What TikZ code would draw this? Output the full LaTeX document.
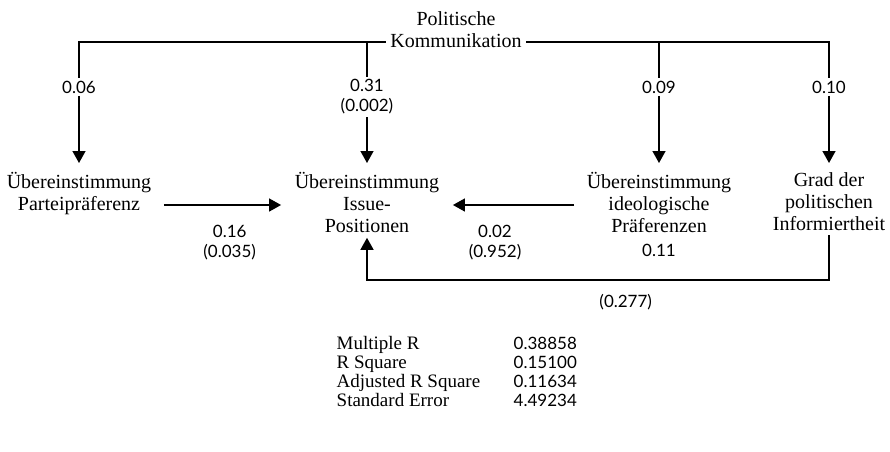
\documentclass[tikz,border=0pt]{standalone}
\usepackage{fontspec}
\setmainfont{Liberation Serif}
\newfontfamily\numfont{Lato}
\usetikzlibrary{arrows.meta,positioning}
\begin{document}
\begin{tikzpicture}[x=1pt,y=-1pt,line width=1.4pt,var/.style={align=center,font=\fontsize{20}{22}\selectfont,inner sep=4pt},num/.style={align=center,font=\numfont\fontsize{17}{20}\selectfont,inner sep=2pt},arr/.style={-{Triangle[length=12pt,width=13pt]}},varr/.style={arr,shorten >=5pt},harr/.style={arr,shorten <=8pt,shorten >=9pt}]
\useasboundingbox (0,0) rectangle (890,451);
\coordinate (bar) at (0,42);\coordinate (mid) at (0,205);\coordinate (fb) at (0,280);
\node[var] (pk) at (456,30) {Politische\\Kommunikation};
\node[num] (l1) at (79,87) {0.06};
\node[num] (l2) at (367,97) {0.31\\(0.002)};
\node[num] (l3) at (659,87) {0.09};
\node[num] (l4) at (829,87) {0.10};
\node[var,anchor=north] (n1) at (79,168) {Übereinstimmung\\Parteipräferenz};
\node[var,anchor=north] (n2) at (367,168) {Übereinstimmung\\Issue-\\Positionen};
\node[var,anchor=north] (n3) at (659,168) {Übereinstimmung\\ideologische\\Präferenzen};
\node[var,anchor=north] (n4) at (829,168) {Grad der\\politischen\\Informiertheit};
\node[num,below=4pt of n3] (r3) {0.11};
\draw (pk.west |- bar) -| (l1);\draw (pk.east |- bar) -| (l4);
\draw (l2 |- bar) -- (l2);\draw (l3 |- bar) -- (l3);
\draw[varr] (l1) -- (n1);\draw[varr] (l2) -- (n2);\draw[varr] (l3) -- (n3);\draw[varr] (l4) -- (n4);
\draw[harr] (n1.east |- mid) -- (n2.west |- mid) node[num,pos=.55,below=17pt] (p1) {0.16\\(0.035)};
\draw[harr] (n3.west |- mid) -- (n2.east |- mid) node[num,pos=.63,below=17pt] (p3) {0.02\\(0.952)};
\draw[arr] (n4.south) -- (n4.south |- fb) -| (n2.south) node[num,pos=.22,below=12pt] (p4) {(0.277)};
\node[anchor=north west,inner sep=0pt] (stats) at (336,335) {\fontsize{19}{19}\selectfont
\begin{tabular}{@{}p{177pt}@{}l@{}}
Multiple R & {\numfont\fontsize{17}{19}\selectfont 0.38858}\\
R Square & {\numfont\fontsize{17}{19}\selectfont 0.15100}\\
Adjusted R Square & {\numfont\fontsize{17}{19}\selectfont 0.11634}\\
Standard Error & {\numfont\fontsize{17}{19}\selectfont 4.49234}
\end{tabular}};
\end{tikzpicture}
\end{document}
